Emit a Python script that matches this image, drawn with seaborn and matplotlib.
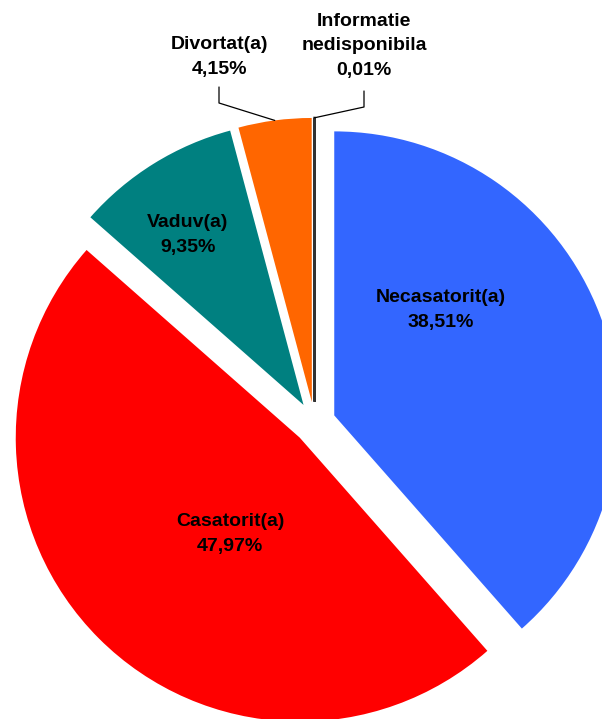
import matplotlib
matplotlib.use('Agg')

import numpy as np
import matplotlib.pyplot as plt
import seaborn as sns

# DATA
categories = ["Necasatorit(a)", "Casatorit(a)", "Vaduv(a)", "Divortat(a)", "Informatie\nnedisponibila"]
shares = [38.51, 47.97, 9.35, 4.15, 0.01]
pct_labels = ["38,51%", "47,97%", "9,35%", "4,15%", "0,01%"]
colors = ["#3366FF", "#FF0000", "#008080", "#FF6600", "#333333"]

# STYLE
sns.set_style("white")
plt.rcParams["font.family"] = ["Liberation Sans", "DejaVu Sans"]

W, H = 602, 719
fig = plt.figure(figsize=(W / 100, H / 100), dpi=100)
ax = fig.add_axes([0, 0, 1, 1])

# pie geometry in pixel units (y up)
radius = 284
center = (314.6, H - 422.8)
explode = [21] * len(shares)

wedges, _ = ax.pie(shares, colors=colors, startangle=90, counterclock=False,
                   explode=explode, radius=radius, center=center,
                   wedgeprops=dict(linewidth=0))
# the tiny slice only shows as a dark line
wedges[-1].set_edgecolor("#333333")
wedges[-1].set_linewidth(1.6)

ax.set_xlim(0, W)
ax.set_ylim(0, H)
ax.set_aspect("equal")
ax.axis("off")

# label positions (image pixel coords, top-down)
label_pos = [(441, 310), (230, 534), (188, 235), (219, 57), (364, 46)]
for cat, pct, (px, py) in zip(categories, pct_labels, label_pos):
    ax.text(px, H - py, f"{cat}\n{pct}", ha="center", va="center",
            fontsize=14, fontweight="bold", color="black", linespacing=1.55)

# leader lines for the two small outer slices
leaders = {3: (219, 87, 103), 4: (364, 91, 107)}
for i, (lx, ltop, lelbow) in leaders.items():
    w = wedges[i]
    th = np.deg2rad((w.theta1 + w.theta2) / 2)
    ex = w.center[0] + w.r * np.cos(th)
    ey = w.center[1] + w.r * np.sin(th)
    ax.plot([lx, lx, ex], [H - ltop, H - lelbow, ey], color="black", linewidth=0.9)

plt.savefig("out.png", dpi=100)
plt.close()
print("Saved: out.png")
